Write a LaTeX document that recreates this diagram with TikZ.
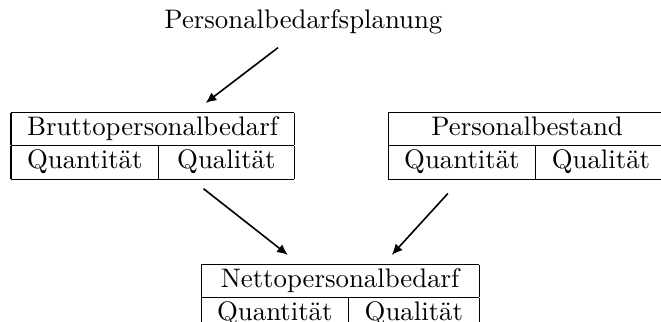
\documentclass[tikz,border=0pt]{standalone}
\usepackage{tikz}
\usetikzlibrary{arrows.meta,positioning}
\newcommand{\splitbox}[1]{\begin{tabular}{|c|c|}\hline
\multicolumn{2}{|c|}{#1}\\\hline
Quantität & Qualität\\\hline
\end{tabular}}

\begin{document}
\begin{tikzpicture}[
  tabbox/.style={inner sep=0pt,outer sep=0pt,anchor=north west},
  arr/.style={-{Latex[length=4pt,width=3.6pt]},semithick}
]
\useasboundingbox (0,0) rectangle (246.6pt,-120.1pt);
\clip (0,0) rectangle (246.6pt,-120.1pt);
\node[anchor=base] (plan) at (113.2pt,-10.8pt) {Personalbedarfsplanung};
\node[tabbox] (brutto) at (4.1pt,-41.8pt) {\splitbox{Bruttopersonalbedarf}};
\node[tabbox] (bestand) at (144.8pt,-41.8pt) {\splitbox{Personalbestand}};
\node[tabbox] (netto) at (75pt,-98.5pt) {\splitbox{Nettopersonalbedarf}};

\draw[arr] ([xshift=-9.5pt,yshift=-1.4pt]plan.south) -- ([xshift=19.8pt,yshift=3.4pt]brutto.north);
\draw[arr] ([xshift=19pt,yshift=-3.4pt]brutto.south) -- ([xshift=-19.5pt,yshift=3.4pt]netto.north);
\draw[arr] ([xshift=-29.6pt,yshift=-5.2pt]bestand.south) -- ([xshift=19.3pt,yshift=3.4pt]netto.north);
\end{tikzpicture}
\end{document}
